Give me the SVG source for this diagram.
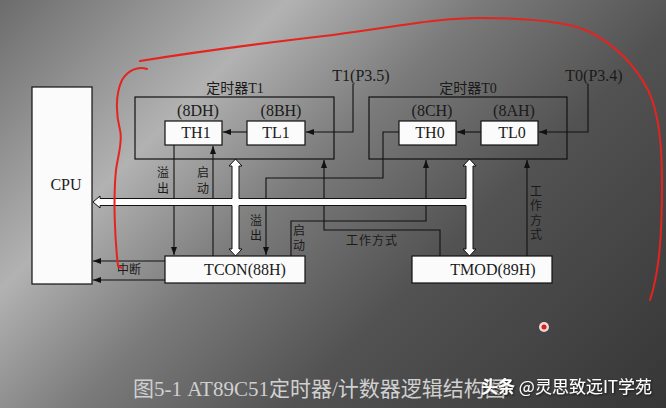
<svg xmlns="http://www.w3.org/2000/svg" width="666" height="408" viewBox="0 0 666 408">
<defs>
<linearGradient id="bg" gradientUnits="userSpaceOnUse" x1="0" y1="0" x2="537" y2="537">
<stop offset="0" stop-color="#6c6c6c"/>
<stop offset="0.27" stop-color="#b2b2b2"/>
<stop offset="0.45" stop-color="#7a7a7a"/>
<stop offset="0.65" stop-color="#525252"/>
<stop offset="1" stop-color="#363636"/>
</linearGradient>
<marker id="ah" markerUnits="userSpaceOnUse" markerWidth="9" markerHeight="8" refX="8" refY="4" orient="auto">
<path d="M0,1 L8,4 L0,7 Z" fill="#111"/>
</marker>
<filter id="sh" x="-10%" y="-30%" width="120%" height="160%">
<feDropShadow dx="1" dy="1" stdDeviation="0.8" flood-color="#000" flood-opacity="0.7"/>
</filter>
</defs>
<style>
.box{fill:#fbfbfb;stroke:#111;stroke-width:1.2}
.frame{fill:none;stroke:#111;stroke-width:1.2}
.ln{fill:none;stroke:#111;stroke-width:1.1}
.t{font-family:"Liberation Serif","Noto Sans CJK SC",serif;font-size:16px;fill:#1a1a1a;text-anchor:middle}
.c{font-family:"Noto Sans CJK SC",sans-serif;font-size:12px;fill:#1a1a1a;text-anchor:middle}
.v{font-family:"Noto Sans CJK SC",sans-serif;font-size:12px;fill:#1a1a1a;text-anchor:middle;writing-mode:tb}
.h{font-family:"Liberation Serif","Noto Sans CJK SC",serif;font-size:14px;fill:#1a1a1a;text-anchor:middle}
.red{fill:none;stroke:#e3241f;stroke-width:2;stroke-linecap:round}
</style>
<rect x="0" y="0" width="666" height="408" fill="url(#bg)"/>

<g id="connectors">
<path class="ln" d="M353,84 V132 H306" marker-end="url(#ah)"/>
<path class="ln" d="M247,132 H223" marker-end="url(#ah)"/>
<path class="ln" d="M588,84 V132 H539" marker-end="url(#ah)"/>
<path class="ln" d="M481,132 H457" marker-end="url(#ah)"/>
<path class="ln" d="M174,145 V255" marker-end="url(#ah)"/>
<path class="ln" d="M213,256 V146" marker-end="url(#ah)"/>
<path class="ln" d="M440,256 V230 H324 V160" marker-end="url(#ah)"/>
<path class="ln" d="M399,132 H383 V178 H266 V255" marker-end="url(#ah)"/>
<path class="ln" d="M291,256 V221 H426 V160" marker-end="url(#ah)"/>
<path class="ln" d="M527,256 V160" marker-end="url(#ah)"/>
<path class="ln" d="M165,261 H93" marker-end="url(#ah)"/>
<path class="ln" d="M165,280 H93" marker-end="url(#ah)"/>
<path id="bus" fill="#fdfdfd" stroke="#111" stroke-width="1" d="M93,202 L100,196 L100,198.5 L232,198.5 L232,166 L229,166 L235.5,159 L242,166 L239,166 L239,198.5 L466,198.5 L466,166 L463,166 L469.5,159 L476,166 L473,166 L473,249 L476,249 L469.5,256 L463,249 L466,249 L466,205.5 L239,205.5 L239,249 L242,249 L235.5,256 L229,249 L232,249 L232,205.5 L100,205.5 L100,208 Z"/>
<text class="v" x="163" y="182" letter-spacing="4">溢出</text>
<text class="v" x="203" y="182" letter-spacing="4">启动</text>
<text class="v" x="256" y="229" letter-spacing="3">溢出</text>
<text class="v" x="299" y="239" letter-spacing="3">启动</text>
<text class="c" x="372" y="245" letter-spacing="1">工作方式</text>
<text class="v" x="536" y="214" letter-spacing="2.5">工作方式</text>
<text class="c" x="129" y="274">中断</text>
<text class="t" x="361" y="81">T1(P3.5)</text>
<text class="t" x="594" y="81">T0(P3.4)</text>
</g>

<g id="cpu">
<rect class="box" x="32" y="87" width="60" height="197"/>
<text class="t" x="66" y="190">CPU</text>
</g>

<g id="timer1">
<rect class="frame" x="135" y="97" width="199" height="62"/>
<text class="h" x="235" y="93">定时器T1</text>
<text class="t" x="198" y="116" fill="#2a2a2a">(8DH)</text>
<text class="t" x="281" y="116" fill="#2a2a2a">(8BH)</text>
</g>
<g id="th1">
<rect class="box" x="165" y="121" width="57" height="24"/>
<text class="t" x="196" y="138">TH1</text>
</g>
<g id="tl1">
<rect class="box" x="247" y="121" width="58" height="24"/>
<text class="t" x="276" y="138">TL1</text>
</g>

<g id="timer0">
<rect class="frame" x="369" y="97" width="198" height="62"/>
<text class="h" x="468" y="93">定时器T0</text>
<text class="t" x="432" y="116" fill="#2a2a2a">(8CH)</text>
<text class="t" x="514" y="116" fill="#2a2a2a">(8AH)</text>
</g>
<g id="th0">
<rect class="box" x="399" y="121" width="57" height="24"/>
<text class="t" x="430" y="138">TH0</text>
</g>
<g id="tl0">
<rect class="box" x="481" y="121" width="57" height="24"/>
<text class="t" x="512" y="138">TL0</text>
</g>

<g id="tcon">
<rect class="box" x="165" y="256" width="140" height="27"/>
<text class="t" x="245" y="275">TCON(88H)</text>
</g>
<g id="tmod">
<rect class="box" x="412" y="256" width="140" height="27"/>
<text class="t" x="493" y="275">TMOD(89H)</text>
</g>

<g id="annotations">
<path class="red" d="M140,61 C220,48 290,40 333,35 C400,26 440,18 480,18 C530,18 570,22 590,32 C615,45 635,65 648,90 C660,115 662,150 662,185 C662,230 660,270 650,300"/>
<path class="red" d="M147,69 C138,66 128,70 122,80 C115,95 116,115 120,130 C123,141 118,155 116,170 C113,200 115,240 118,266 L122,268"/>
<circle cx="544" cy="327" r="5" fill="#f2d6d6"/>
<circle cx="544" cy="327" r="2.5" fill="#d42020"/>
</g>

<text x="133" y="396" font-family="'Liberation Serif','Noto Sans CJK SC',serif" font-size="21" fill="#d0d0d0">图5-1 AT89C51定时器/计数器逻辑结构图</text>
<text x="481" y="393" font-family="'Noto Sans CJK SC',sans-serif" font-size="17" fill="#ffffff" filter="url(#sh)"><tspan font-weight="bold">头条</tspan> @灵思致远IT学苑</text>
</svg>
